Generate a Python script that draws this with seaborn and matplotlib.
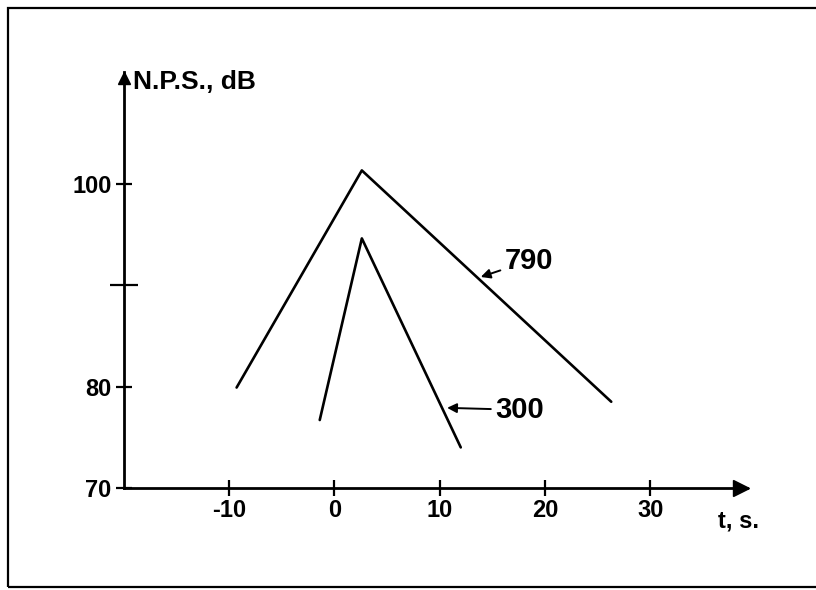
import seaborn as sns
import matplotlib.pyplot as plt
import matplotlib.patches as mpatches
import pandas as pd

# sound level curves
t_790 = [-9.3, 2.6, 26.3]
nps_790 = [79.9, 101.3, 78.5]
t_300 = [-1.4, 2.6, 12.0]
nps_300 = [76.7, 94.6, 74.0]

xticks = [-10, 0, 10, 20, 30]
yticks = [70, 80, 90, 100]
ytick_labels = ['70', '80', '', '100']

df = pd.DataFrame({
    't': t_790 + t_300,
    'nps': nps_790 + nps_300,
    'curve': ['790'] * len(t_790) + ['300'] * len(t_300),
})

sns.set_style('white')
plt.rcParams['font.family'] = ['Liberation Sans', 'DejaVu Sans']
plt.rcParams['font.weight'] = 'bold'
plt.rcParams['text.color'] = 'black'

fig = plt.figure(figsize=(8.16, 5.90), dpi=100)
ax = fig.add_axes([124 / 816, 1 - 488 / 590, (747 - 124) / 816, (488 - 72) / 590])

sns.lineplot(data=df, x='t', y='nps', units='curve', estimator=None, sort=False,
             color='black', linewidth=1.9, ax=ax, legend=False)
for l in ax.lines:
    l.set_solid_joinstyle('round')
    l.set_clip_on(False)

ax.set_xlim(-20, 39.2)
ax.set_ylim(70, 111)
ax.set_xticks(xticks)
ax.set_xticklabels([str(v) for v in xticks])
ax.set_yticks(yticks)
ax.set_yticklabels(ytick_labels)
ax.tick_params(axis='both', direction='inout', length=12, width=1.6,
               labelsize=17, colors='black', bottom=True, left=True)
ax.tick_params(axis='x', pad=2)
ax.tick_params(axis='y', pad=3)
ax.yaxis.get_major_ticks()[2].tick1line.set_markersize(20)
for lab in ax.get_xticklabels() + ax.get_yticklabels():
    lab.set_fontweight('bold')

for side in ['top', 'right']:
    ax.spines[side].set_visible(False)
for side in ['left', 'bottom']:
    ax.spines[side].set_linewidth(2)
    ax.spines[side].set_color('black')
ax.set_xlabel('')
ax.set_ylabel('')

# axis arrow heads
ax.plot(0.99, 0, '>', color='black', markersize=11, transform=ax.transAxes, clip_on=False)
ax.plot(0, 0.985, '^', color='black', markersize=9, transform=ax.transAxes, clip_on=False)

ax.text(0.014, 0.976, 'N.P.S., dB', transform=ax.transAxes, fontsize=19,
        fontweight='bold', va='center', ha='left')
ax.text(0.987, -0.08, 't, s.', transform=ax.transAxes, fontsize=17,
        fontweight='bold', va='center', ha='center')

ax.annotate('790', xy=(13.9, 90.8), xytext=(16.2, 92.4), fontsize=21,
            fontweight='bold', va='center', ha='left',
            arrowprops=dict(arrowstyle='-|>', color='black', lw=1.4,
                            shrinkA=1, shrinkB=0, mutation_scale=14))
ax.annotate('300', xy=(10.7, 77.9), xytext=(15.3, 77.7), fontsize=21,
            fontweight='bold', va='center', ha='left',
            arrowprops=dict(arrowstyle='-|>', color='black', lw=1.4,
                            shrinkA=1, shrinkB=0, mutation_scale=14))

# frame around the whole figure
fig.patches.append(mpatches.Rectangle((8 / 816, 3 / 590), 1.0, 1 - 11 / 590,
                                      transform=fig.transFigure, fill=False,
                                      edgecolor='black', linewidth=1.6))

fig.savefig('out.png', dpi=100)
